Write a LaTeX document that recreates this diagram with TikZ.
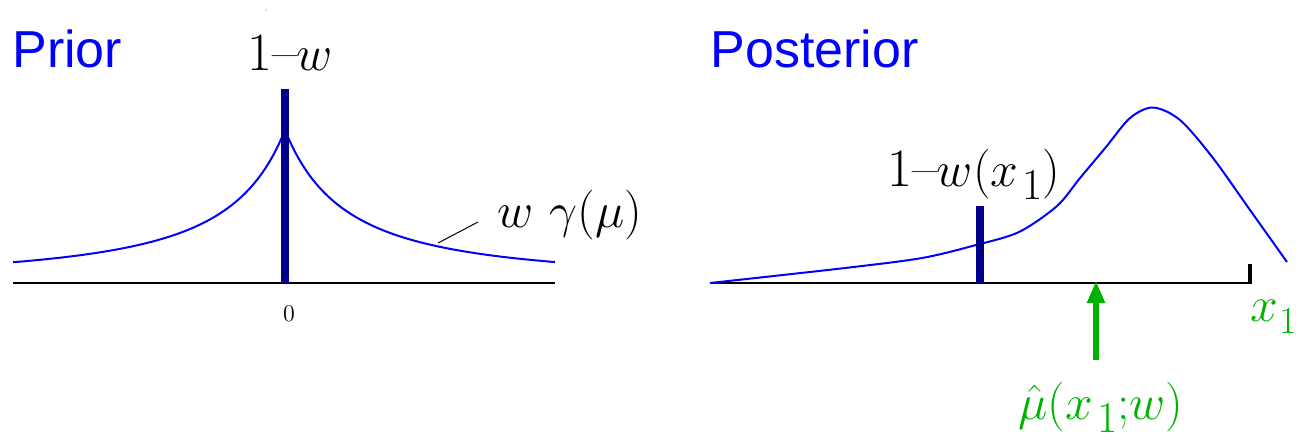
\documentclass[tikz,border=0pt]{standalone}
\usepackage{fontspec}
\newfontfamily\headfont{Liberation Sans}
\usetikzlibrary{arrows.meta}
\definecolor{myblue}{RGB}{0,0,255}
\definecolor{mynavy}{RGB}{0,0,140}
\definecolor{mygreen}{RGB}{0,178,0}
\newcommand\xsubone{x\hspace{2pt}\raisebox{-6.5pt}{\fontsize{22}{24}\selectfont 1}}
\newcommand\xsubonesmall{x\hspace{0.5pt}\raisebox{-6pt}{\fontsize{19}{20}\selectfont 1}}
\begin{document}
\begin{tikzpicture}[x=0.5pt,y=-0.5pt,
  curve/.style={draw=myblue, line width=1pt},
  axisline/.style={draw=black, line width=1.3pt},
  spike/.style={draw=mynavy, line width=4pt},
  lbl/.style={inner sep=0pt, anchor=base west, font=\fontsize{27}{32}\selectfont},
  titletext/.style={inner sep=0pt, anchor=base west, text=myblue, font=\headfont\fontsize{26}{30}\selectfont},
  greenarrow/.style={draw=mygreen, line width=2.6pt, -{Triangle[length=11pt,width=8.5pt]}},
]
\useasboundingbox (0,0) rectangle (1296,436);

% ---------- Prior ----------
\node[titletext] (prior) at (12,67) {Prior};
\draw[axisline] (13,283) coordinate (la0) -- (555,283) coordinate (la1);
\draw[curve] plot[domain=13:285,samples=100] (\x,{283-153/(1+(285-\x)/86)^1.4})
  -- plot[domain=285:555,samples=100] (\x,{283-153/(1+(\x-285)/86)^1.4});
\coordinate (s0) at (285,283);
\coordinate (s1) at (285,89);
\draw[spike] (s0) -- (s1);
\node[lbl] (lw) at (247,70) {1--$w$};
\node[lbl] (wg) at (497,227) {$w\ \gamma(\mu)$};
\coordinate (lp) at (438,243);
\coordinate (lq) at (478,222);
\draw[line width=0.5pt] (lp) -- (lq);
\node[inner sep=0pt, font=\fontsize{12}{14}\selectfont] (zero) at (289,313.5) {0};
\fill[black!60] (266,10) circle (0.6);

% ---------- Posterior ----------
\node[titletext] (post) at (710,67) {Posterior};
\draw[axisline] (710,283) coordinate (ra0) -- (1251,283) coordinate (ra1);
\coordinate (t0) at (1250,284);
\coordinate (t1) at (1250,264);
\draw[line width=2pt] (t0) -- (t1);
\draw[curve] plot[smooth,tension=0.5] coordinates {
  (710,283) (845,268) (922,258) (976,245) (1019,232) (1057,206)
  (1080,178) (1106,147) (1130,118) (1153,107.5) (1180,120)
  (1213,158) (1250,210) (1287,262)};
\coordinate (r0) at (980,283);
\coordinate (r1) at (980,206);
\draw[spike] (r0) -- (r1);
\node[lbl] (lwx) at (887,186) {1--$w(\xsubone)$};
\coordinate (ab) at (1096,360);
\coordinate (at) at (1096,281);
\draw[greenarrow] (ab) -- (at);
\node[lbl, text=mygreen] (muhat) at (1018,419) {$\hat\mu(\xsubone{;}w)$};
\node[lbl, text=mygreen, font=\fontsize{25}{30}\selectfont] (xone) at (1250,321) {$\xsubonesmall$};
\end{tikzpicture}
\end{document}
